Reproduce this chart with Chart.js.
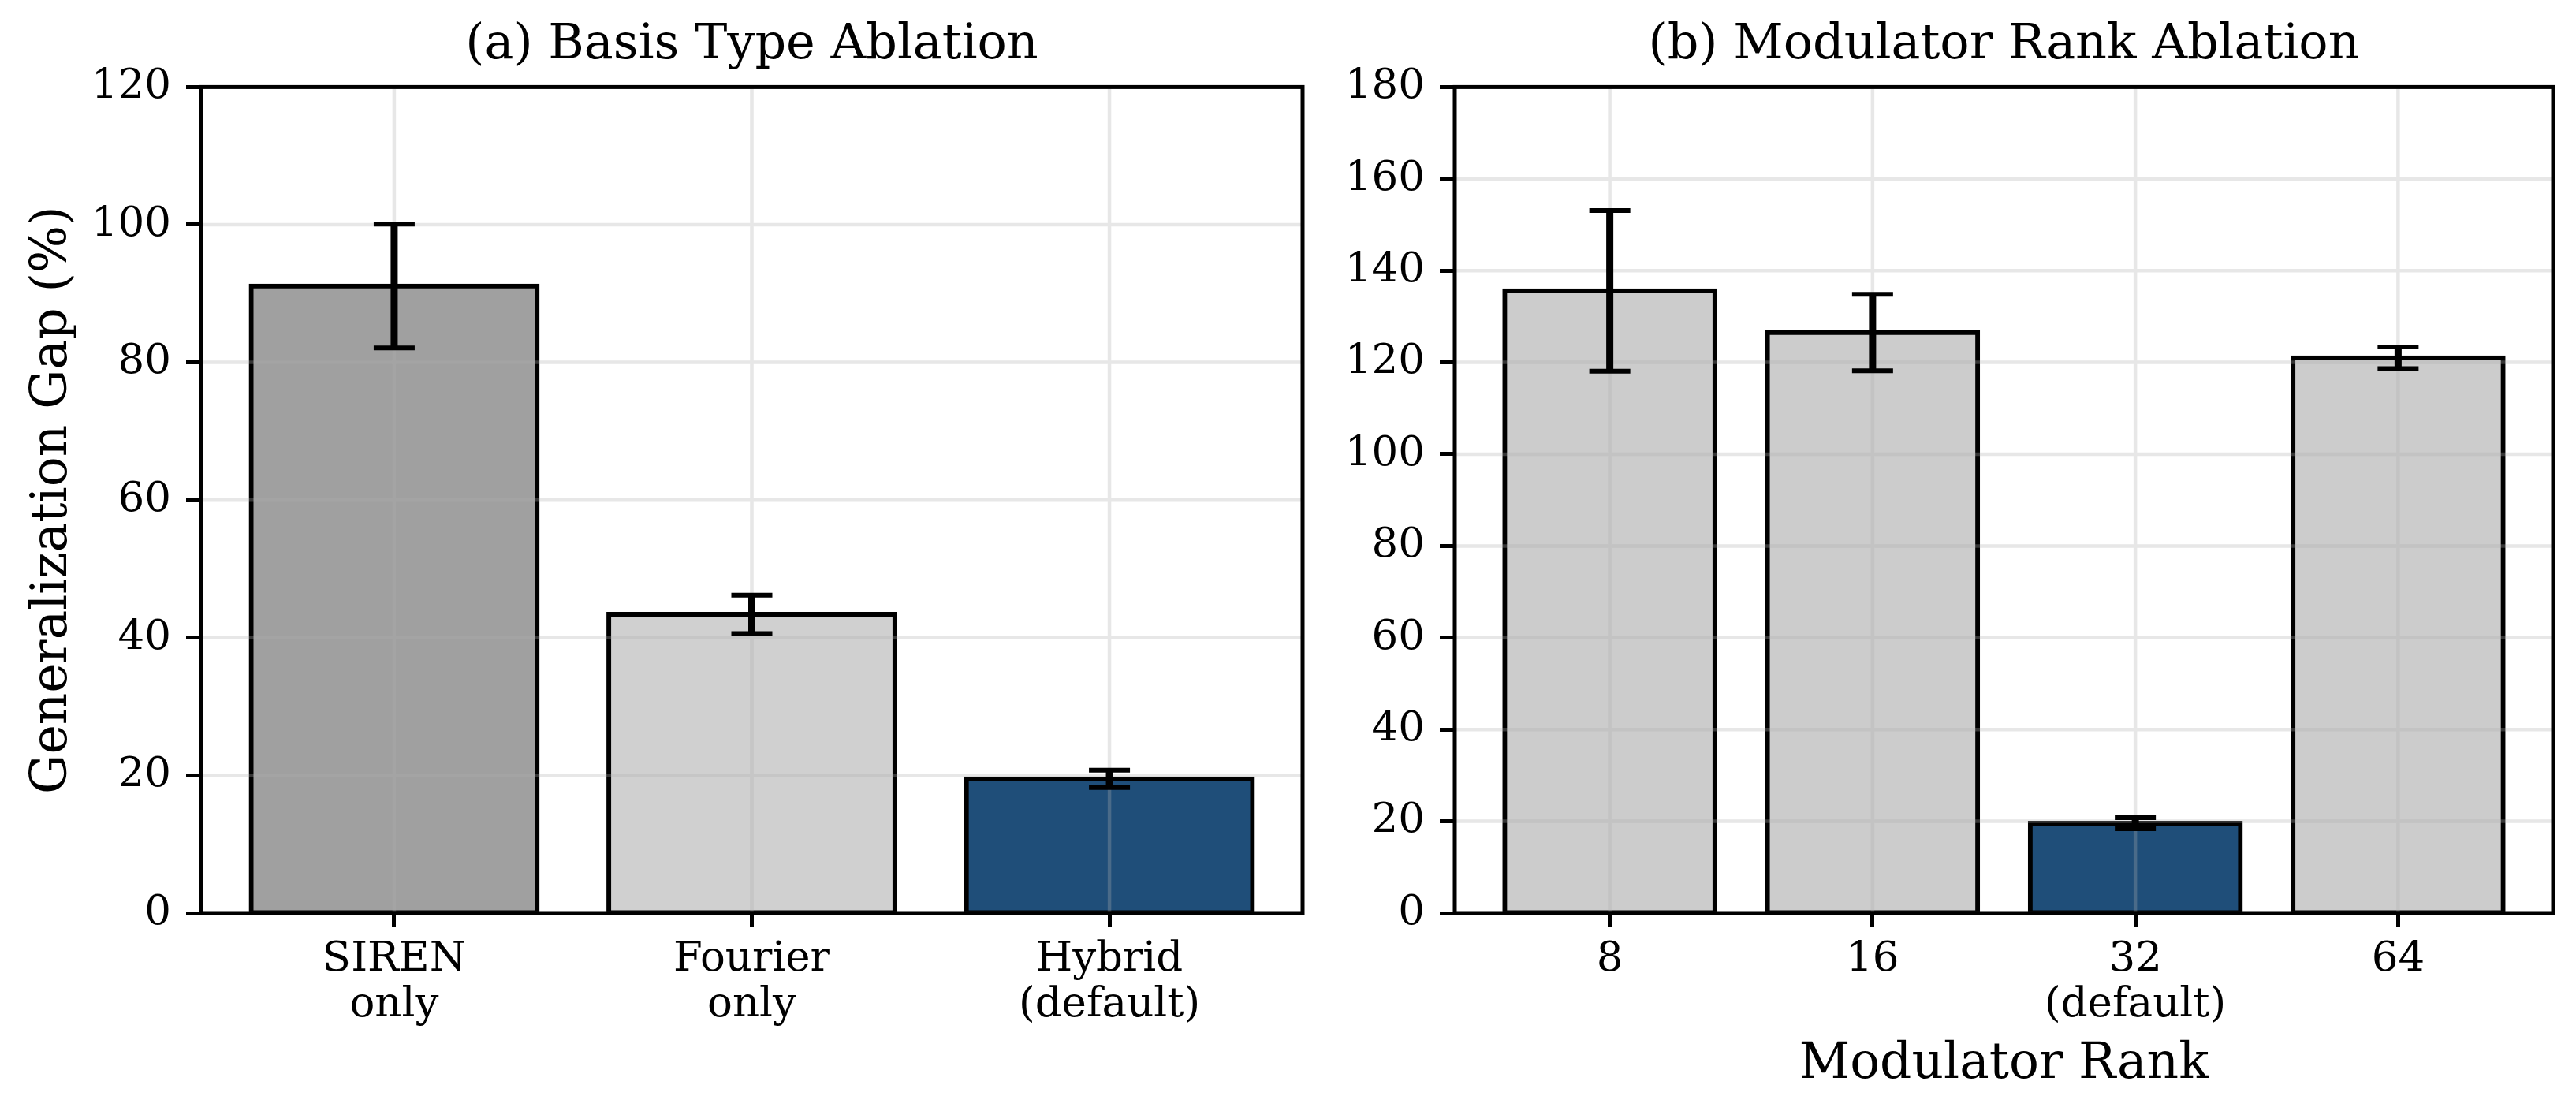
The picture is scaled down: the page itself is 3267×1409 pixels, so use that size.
<!DOCTYPE html>
<html>
<head>
<meta charset="utf-8">
<script src="https://cdn.jsdelivr.net/npm/chart.js@4.4.1/dist/chart.umd.min.js"></script>
<style>
  html, body { margin: 0; padding: 0; background: #fff; }
  body { width: 3267px; height: 1409px; position: relative; overflow: hidden; }
  canvas { position: absolute; top: 0; }
  #basisChart { left: 0; }
  #rankChart { left: 1690px; }
</style>
</head>
<body>
<canvas id="basisChart" width="1690" height="1409"></canvas>
<canvas id="rankChart" width="1577" height="1409"></canvas>
<script>
// (a) basis type ablation
const basisLabels = [['SIREN', 'only'], ['Fourier', 'only'], ['Hybrid', '(default)']];
const basisGap = [91.1, 43.4, 19.5];
const basisErr = [9.0, 2.8, 1.25];
const basisColors = ['#a0a0a0', '#d0d0d0', '#1f4e79'];
const basisMax = 120;

// (b) modulator rank ablation
const rankLabels = [['8'], ['16'], ['32', '(default)'], ['64']];
const rankGap = [135.6, 126.5, 19.6, 121.0];
const rankErr = [17.5, 8.35, 1.2, 2.35];
const rankColors = ['#cccccc', '#cccccc', '#1f4e79', '#cccccc'];
const rankMax = 180;

const tickStep = 20;

Chart.defaults.font.family = "'DejaVu Serif', serif";
Chart.defaults.color = '#000';

// grid on top of the bars, then error bars, then the axes frame
const overlay = {
    id: 'overlay',
    afterDatasetsDraw(chart, args, opts) {
        const { ctx, chartArea: a, scales: { x, y } } = chart;
        ctx.save();
        ctx.strokeStyle = 'rgba(176,176,176,0.3)';
        ctx.lineWidth = 4.5;
        ctx.beginPath();
        y.ticks.forEach((t) => {
            const py = y.getPixelForValue(t.value);
            ctx.moveTo(a.left, py);
            ctx.lineTo(a.right, py);
        });
        x.ticks.forEach((t) => {
            const px = x.getPixelForValue(t.value);
            ctx.moveTo(px, a.top);
            ctx.lineTo(px, a.bottom);
        });
        ctx.stroke();

        const meta = chart.getDatasetMeta(0);
        const values = chart.data.datasets[0].data;
        ctx.strokeStyle = '#000';
        opts.err.forEach((e, i) => {
            const bar = meta.data[i];
            const v = values[i].y;
            const hi = y.getPixelForValue(v + e);
            const lo = y.getPixelForValue(v - e);
            ctx.lineWidth = 9;
            ctx.beginPath();
            ctx.moveTo(bar.x, hi);
            ctx.lineTo(bar.x, lo);
            ctx.stroke();
            ctx.lineWidth = 6;
            ctx.beginPath();
            ctx.moveTo(bar.x - 26, hi);
            ctx.lineTo(bar.x + 26, hi);
            ctx.moveTo(bar.x - 26, lo);
            ctx.lineTo(bar.x + 26, lo);
            ctx.stroke();
        });

        ctx.lineWidth = 5;
        ctx.strokeRect(a.left, a.top, a.right - a.left, a.bottom - a.top);
        ctx.restore();
    }
};

const makeChart = (id, cfg) => {
    const n = cfg.values.length;
    const margin = 0.05 * (n - 0.2);
    return new Chart(document.getElementById(id), {
        type: 'bar',
        data: {
            datasets: [{
                data: cfg.values.map((v, i) => ({ x: i, y: v })),
                backgroundColor: cfg.colors,
                borderColor: '#000',
                borderWidth: 6,
                borderSkipped: false,
                inflateAmount: 3,
                categoryPercentage: 1,
                barPercentage: 0.8
            }]
        },
        options: {
            responsive: false,
            animation: false,
            devicePixelRatio: 1,
            layout: { padding: { left: 0, right: cfg.padRight, top: 0, bottom: 0 } },
            plugins: {
                legend: { display: false },
                tooltip: { enabled: false },
                title: {
                    display: true,
                    text: cfg.title,
                    fullSize: false,
                    color: '#000',
                    font: { size: 62, weight: 'normal', lineHeight: 1.2 },
                    padding: { top: 21, bottom: 15 }
                },
                overlay: { err: cfg.err }
            },
            scales: {
                x: {
                    type: 'linear',
                    offset: false,
                    min: -0.4 - margin,
                    max: n - 0.6 + margin,
                    afterBuildTicks: (s) => { s.ticks = cfg.labels.map((_, i) => ({ value: i })); },
                    afterFit: (s) => { s.height = 251; },
                    ticks: {
                        callback: (v) => cfg.labels[v],
                        autoSkip: false,
                        maxRotation: 0,
                        padding: 12,
                        color: '#000',
                        font: { size: 53, lineHeight: 1.1 }
                    },
                    grid: { offset: false, drawOnChartArea: false, tickLength: 18, tickWidth: 5, tickColor: '#000' },
                    border: { display: false },
                    title: {
                        display: !!cfg.xTitle,
                        text: cfg.xTitle || '',
                        color: '#000',
                        font: { size: 63, lineHeight: 1.2 },
                        padding: { top: 0, bottom: 21 }
                    }
                },
                y: {
                    min: 0,
                    max: cfg.max,
                    afterFit: (s) => { s.width = cfg.yWidth; },
                    ticks: { stepSize: tickStep, padding: 19, color: '#000', font: { size: 53 } },
                    grid: { drawOnChartArea: false, tickLength: 19, tickWidth: 5, tickColor: '#000' },
                    border: { display: false },
                    title: {
                        display: !!cfg.yTitle,
                        text: cfg.yTitle || '',
                        color: '#000',
                        font: { size: 63, lineHeight: 1.2 },
                        padding: { top: 30, bottom: 0 }
                    }
                }
            }
        },
        plugins: [overlay]
    });
};

makeChart('basisChart', {
    title: '(a) Basis Type Ablation',
    labels: basisLabels, values: basisGap, err: basisErr, colors: basisColors,
    max: basisMax, yTitle: 'Generalization Gap (%)', xTitle: null,
    yWidth: 255, padRight: 38
});

makeChart('rankChart', {
    title: '(b) Modulator Rank Ablation',
    labels: rankLabels, values: rankGap, err: rankErr, colors: rankColors,
    max: rankMax, yTitle: null, xTitle: 'Modulator Rank',
    yWidth: 155, padRight: 29
});
</script>
</body>
</html>
